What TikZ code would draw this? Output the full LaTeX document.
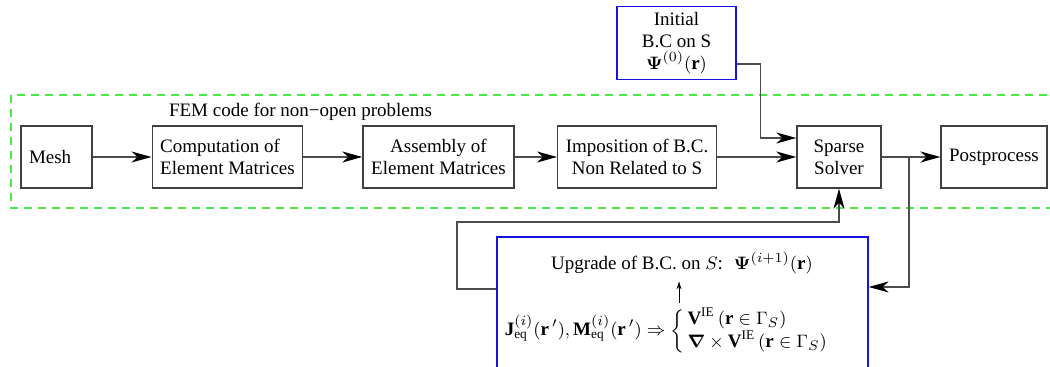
\documentclass[tikz,border=0pt]{standalone}
\usepackage{amsmath}
\usepackage{fontspec}
\setmainfont{Liberation Serif}
\usetikzlibrary{arrows.meta}
\definecolor{femgreen}{RGB}{70,235,70}
\definecolor{iebblue}{RGB}{20,20,220}
\begin{document}
\begin{tikzpicture}[
  x=0.5pt, y=-0.5pt,
  font=\fontsize{9.5pt}{11pt}\selectfont,
  box/.style={draw=black!75, line width=0.7pt, align=center,
              minimum height=31pt, inner sep=4pt},
  bluebox/.style={draw=iebblue, line width=0.6pt, align=center, inner sep=3pt},
  arrow/.style={-{Stealth[length=10pt,width=5.5pt,inset=3pt,color=black]},
                draw=black!70, line width=0.7pt}
]
\useasboundingbox (0,0) rectangle (1050,367);
\clip (0,0) rectangle (1050,367);
% FEM frame
\draw[femgreen, line width=0.6pt, dash pattern=on 4pt off 3pt] (11,95) rectangle (1060,208);
\node[anchor=base west] (femlabel) at (162,117) {FEM code for non\textminus open problems};
% main chain
\node[box, minimum width=35.5pt, text width=27.5pt, align=left] (mesh) at (56.5,157) {Mesh};
\node[box, minimum width=74.5pt, align=left] (comp) at (227.5,157) {Computation of\\Element Matrices};
\node[box, minimum width=75.5pt] (assem) at (438.5,157) {Assembly of\\Element Matrices};
\node[box, minimum width=75pt] (impos) at (637,157) {Imposition of B.C.\\Non Related to S};
\node[box, minimum width=42pt] (solver) at (839,157) {Sparse\\Solver};
\node[box, minimum width=51pt] (post) at (994,157) {Postprocess};
% boundary conditions
\node[bluebox, minimum width=59.5pt, minimum height=36pt] (init) at (676.5,43)
  {Initial\\B.C on S\\$\boldsymbol{\Psi}^{(0)}(\mathbf{r})$};
\node[bluebox, minimum width=185.5pt, minimum height=81.5pt] (update) at (682.5,318.5) {};
\node (upgrade) at (682,263) {Upgrade of B.C. on $S$: \ $\boldsymbol{\Psi}^{(i+1)}(\mathbf{r})$};
\node (formula) at (672,331) {$\mathbf{J}^{(i)}_{\mathrm{eq}}(\mathbf{r}\,'),\mathbf{M}^{(i)}_{\mathrm{eq}}(\mathbf{r}\,')\Rightarrow
  \left\{\begin{array}{@{\,}l}
    \mathbf{V}^{\mathrm{IE}}\,(\mathbf{r}\in\Gamma_S)\\
    \boldsymbol{\nabla}\times\mathbf{V}^{\mathrm{IE}}\,(\mathbf{r}\in\Gamma_S)
  \end{array}\right.$};
\coordinate (split) at (909,157);

\draw[arrow] (mesh) -- (comp);
\draw[arrow] (comp) -- (assem);
\draw[arrow] (assem) -- (impos);
\draw[arrow] (impos) -- (solver);
\draw[arrow] (solver) -- (post);
\draw[arrow] ([yshift=-10.5pt]init.east) -- ++(24,0) |- ([yshift=9.5pt]solver.west);
\draw[arrow] (split) |- (update.east |- 0,287);
\draw[arrow] (update.west |- 0,289) -| (457,222) -| (solver.south);
\draw[-{Stealth[length=4pt,width=2.5pt]}, line width=0.5pt] (679,303) -- (upgrade.south -| 679,0);
\end{tikzpicture}
\end{document}
